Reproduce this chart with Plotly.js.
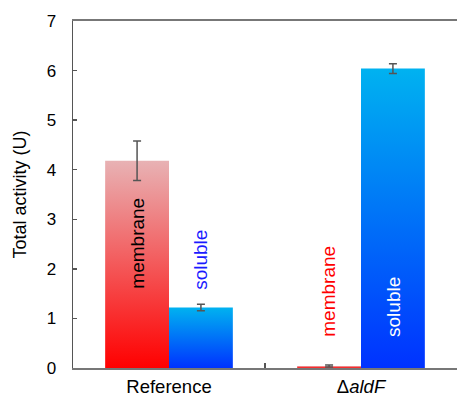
<!DOCTYPE html>
<html><head><meta charset="utf-8">
<script src="https://cdn.plot.ly/plotly-3.0.1.min.js"></script>
<style>html,body{margin:0;padding:0;background:#fff}</style>
</head><body><div id="chart" style="width:457px;height:398px"></div>
<script>
const categories = ['Reference', 'Δ<i>aldF</i>'];
const membraneValues = [4.18, 0.04];
const membraneErrors = [0.40, 0.02];
const solubleValues = [1.22, 6.04];
const solubleErrors = [0.065, 0.10];
const yTickValues = [0, 1, 2, 3, 4, 5, 6, 7];
const seriesNames = ['membrane', 'soluble'];

const FONT = 'Liberation Sans, Arial, sans-serif';
const bargap = 0.335;
const half = (1 - bargap) / 4;

const errStyle = {type: 'data', visible: true, color: '#555', thickness: 1.5, width: 4};

const data = [
  {type: 'bar', name: seriesNames[0], x: categories, y: membraneValues,
   marker: {color: '#f06060'},
   error_y: Object.assign({array: membraneErrors}, errStyle)},
  {type: 'bar', name: seriesNames[1], x: categories, y: solubleValues,
   marker: {color: '#0090f8'},
   error_y: Object.assign({array: solubleErrors}, errStyle)}
];

const labelStyle = [
  {cat: 0, s: -1, y: 2.51, color: '#000000', text: seriesNames[0]},
  {cat: 0, s: 1, y: 2.18, color: '#1a1aff', text: seriesNames[1]},
  {cat: 1, s: -1, y: 1.54, color: '#ff0000', text: seriesNames[0]},
  {cat: 1, s: 1, y: 1.23, color: '#ffffff', text: seriesNames[1]}
];

const layout = {
  width: 457, height: 398,
  margin: {l: 73, r: 0, t: 21, b: 30},
  paper_bgcolor: '#fff', plot_bgcolor: '#fff',
  showlegend: false,
  barmode: 'group', bargap: bargap, bargroupgap: 0,
  font: {family: FONT, color: '#000'},
  xaxis: {
    type: 'category', showline: true, mirror: true, linecolor: '#777', linewidth: 2,
    ticks: 'inside', tickson: 'boundaries', ticklen: 5, tickcolor: '#555', tickwidth: 1.5,
    tickfont: {size: 18.5, family: FONT, color: '#000'}, ticklabelstandoff: 1,
    showgrid: false, zeroline: false, fixedrange: true
  },
  yaxis: {
    range: [0, 7], tickvals: yTickValues, showline: true, linecolor: '#555', linewidth: 1.5,
    ticks: 'inside', ticklen: 4, tickcolor: '#555', tickwidth: 1.5,
    tickfont: {size: 17, family: FONT, color: '#000'}, ticklabelstandoff: 12,
    showgrid: false, zeroline: false,
    title: {text: 'Total activity (U)', font: {size: 18, family: FONT, color: '#000'}, standoff: 15}
  },
  annotations: labelStyle.map(l => ({
    xref: 'x', yref: 'y', x: l.cat + l.s * half, y: l.y,
    text: l.text, textangle: -90, showarrow: false,
    xanchor: 'center', yanchor: 'middle',
    font: {size: 19, family: FONT, color: l.color}
  }))
};

Plotly.newPlot('chart', data, layout, {staticPlot: true, displayModeBar: false}).then(gd => {
  const ns = 'http://www.w3.org/2000/svg';
  const svg = gd.querySelector('svg.main-svg');
  let defs = svg.querySelector('defs');
  if (!defs) { defs = document.createElementNS(ns, 'defs'); svg.insertBefore(defs, svg.firstChild); }
  const grads = [['gradMem', 'rgb(232,178,180)', 'rgb(255,0,0)'], ['gradSol', 'rgb(0,178,240)', 'rgb(0,50,255)']];
  grads.forEach(([id, top, bottom]) => {
    const g = document.createElementNS(ns, 'linearGradient');
    g.setAttribute('id', id);
    g.setAttribute('x1', '0'); g.setAttribute('y1', '0'); g.setAttribute('x2', '0'); g.setAttribute('y2', '1');
    [[0, top], [1, bottom]].forEach(([o, c]) => {
      const s = document.createElementNS(ns, 'stop');
      s.setAttribute('offset', o); s.setAttribute('stop-color', c);
      g.appendChild(s);
    });
    defs.appendChild(g);
  });
  gd.querySelectorAll('.barlayer .trace').forEach((t, i) => {
    t.querySelectorAll('.point path').forEach(p => { p.style.fill = 'url(#' + grads[i][0] + ')'; });
  });
});
</script></body></html>
